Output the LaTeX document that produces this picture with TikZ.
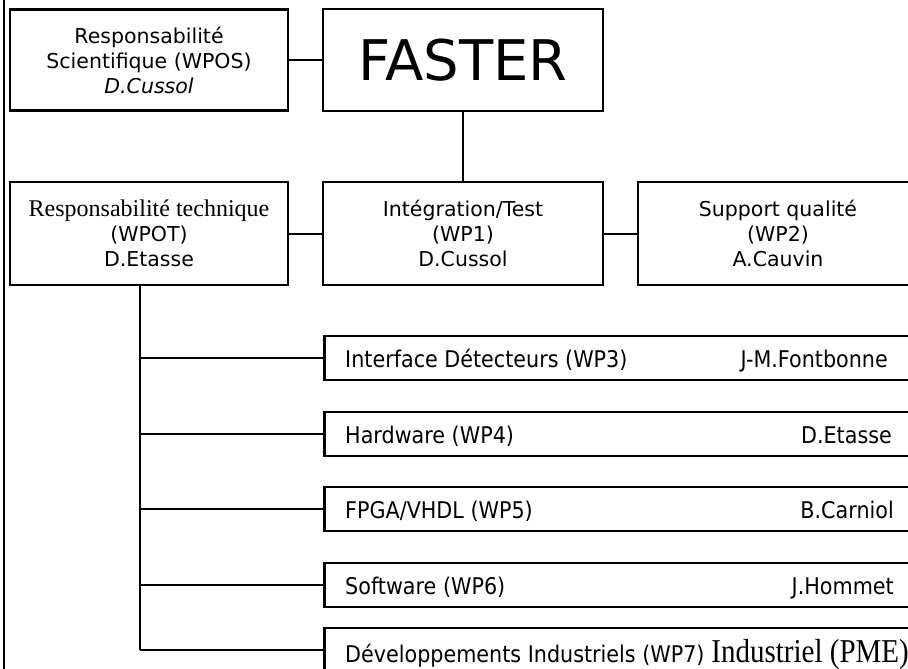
\documentclass[tikz,border=0pt]{standalone}
\usepackage{fontspec}
\setmainfont{DejaVu Sans}
\newfontfamily\timesf{Liberation Serif}
\newfontfamily\wpfont[FakeStretch=0.9]{DejaVu Sans}
\begin{document}
\begin{tikzpicture}[x=1pt,y=-1pt,
  box/.style={draw, line width=2.5pt, inner sep=0pt, align=center,
    font=\fontsize{20.5}{25}\selectfont},
  wpbox/.style={draw, line width=2.5pt, inner sep=0pt, minimum width=610pt, minimum height=44pt, anchor=west},
  wptext/.style={font=\wpfont\fontsize{23}{25}\selectfont, inner sep=0pt},
  conn/.style={line width=2pt}]
\useasboundingbox (0,0) rectangle (908,669);
\clip (0,0) rectangle (908,669);
\fill[white] (0,0) rectangle (908,669);
% left frame line
\draw[line width=2pt] (4,0) -- (4,669);
% top row
\node[box, minimum width=278pt, minimum height=101pt] (sci) at (149,60)
  {Responsabilité\\Scientifique (WPOS)\\\textit{D.Cussol}};
\node[box, minimum width=280pt, minimum height=102pt, font=\fontsize{56}{60}\selectfont] (faster) at (463,60) {FASTER};
% second row
\node[box, minimum width=278pt, minimum height=103pt] (tech) at (149,233.5)
  {{\timesf\fontsize{24}{25}\selectfont Responsabilité technique}\\(WPOT)\\D.Etasse};
\node[box, minimum width=280pt, minimum height=103pt] (integ) at (463,233.5)
  {Intégration/Test\\(WP1)\\D.Cussol};
\node[box, minimum width=280pt, minimum height=103pt] (qual) at (778,233.5)
  {Support qualité\\(WP2)\\A.Cauvin};
% work packages
\node[wpbox] (wp3) at (323,358) {};
\node[wpbox] (wp4) at (323,434) {};
\node[wpbox] (wp5) at (323,509) {};
\node[wpbox] (wp6) at (323,585) {};
\node[wpbox] (wp7) at (323,650) {};
\node[wptext, anchor=base west] (t3) at (345,367) {Interface Détecteurs (WP3)};
\node[wptext, anchor=base east] (n3) at (888,367) {J-M.Fontbonne};
\node[wptext, anchor=base west] (t4) at (345,443) {Hardware (WP4)};
\node[wptext, anchor=base east] (n4) at (892,443) {D.Etasse};
\node[wptext, anchor=base west] (t5) at (345,518) {FPGA/VHDL (WP5)};
\node[wptext, anchor=base east] (n5) at (894,518) {B.Carniol};
\node[wptext, anchor=base west] (t6) at (345,594) {Software (WP6)};
\node[wptext, anchor=base east] (n6) at (894,594) {J.Hommet};
\node[wptext, anchor=base west] (t7) at (345,662) {Développements Industriels (WP7)};
\node[font=\timesf\fontsize{29}{32}\selectfont, inner sep=0pt, anchor=base east] (n7) at (909,662) {\scalebox{1}[1.15]{Industriel (PME)}};
% connectors
\draw[conn] (sci.east) -- (faster.west);
\draw[conn] (faster.south) -- (integ.north);
\draw[conn] (tech.east) -- (integ.west);
\draw[conn] (integ.east) -- (qual.west);
\coordinate (trunktop) at (tech.south -| 140,0);
\coordinate (trunkbot) at (wp7.west -| 140,0);
\draw[conn, line width=2.5pt] (trunktop) -- (trunkbot);
\foreach \w in {wp3,wp4,wp5,wp6,wp7}{
  \draw[conn] (\w.west -| trunktop) -- (\w.west);
}
\end{tikzpicture}
\end{document}
